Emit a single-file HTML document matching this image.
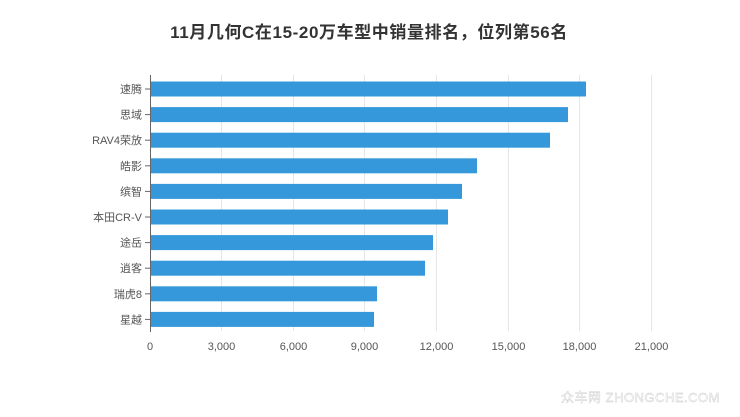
<!DOCTYPE html>
<html><head><meta charset="utf-8"><style>
html,body{margin:0;padding:0;background:#fff;}
svg{display:block;font-family:"Liberation Sans","Noto Sans CJK SC",sans-serif;}
</style></head><body>
<svg width="740" height="417" viewBox="0 0 740 417" xmlns="http://www.w3.org/2000/svg">
<text x="369" y="38" text-anchor="middle" font-size="17" font-weight="bold" fill="#333" letter-spacing="0.6">11月几何C在15-20万车型中销量排名，位列第56名</text>
<g stroke="#e6e6e6" stroke-width="1">
<line x1="221.5" y1="75" x2="221.5" y2="331"/>
<line x1="293.5" y1="75" x2="293.5" y2="331"/>
<line x1="364.5" y1="75" x2="364.5" y2="331"/>
<line x1="436.5" y1="75" x2="436.5" y2="331"/>
<line x1="508.5" y1="75" x2="508.5" y2="331"/>
<line x1="579.5" y1="75" x2="579.5" y2="331"/>
<line x1="651.5" y1="75" x2="651.5" y2="331"/>
</g>
<g fill="#3498db">
<rect x="150" y="81.5" width="436" height="15"/>
<rect x="150" y="107.1" width="418" height="15"/>
<rect x="150" y="132.7" width="400" height="15"/>
<rect x="150" y="158.3" width="327" height="15"/>
<rect x="150" y="183.9" width="312" height="15"/>
<rect x="150" y="209.5" width="298" height="15"/>
<rect x="150" y="235.1" width="283" height="15"/>
<rect x="150" y="260.7" width="275" height="15"/>
<rect x="150" y="286.3" width="227" height="15"/>
<rect x="150" y="311.9" width="224" height="15"/>
</g>
<g stroke="#666" stroke-width="1">
<line x1="150.5" y1="75" x2="150.5" y2="332"/>
<line x1="145" y1="89" x2="150" y2="89"/>
<line x1="145" y1="114.6" x2="150" y2="114.6"/>
<line x1="145" y1="140.2" x2="150" y2="140.2"/>
<line x1="145" y1="165.8" x2="150" y2="165.8"/>
<line x1="145" y1="191.4" x2="150" y2="191.4"/>
<line x1="145" y1="217" x2="150" y2="217"/>
<line x1="145" y1="242.6" x2="150" y2="242.6"/>
<line x1="145" y1="268.2" x2="150" y2="268.2"/>
<line x1="145" y1="293.8" x2="150" y2="293.8"/>
<line x1="145" y1="319.4" x2="150" y2="319.4"/>
</g>
<g font-size="11" fill="#555" text-anchor="end">
<text x="142" y="93">速腾</text>
<text x="142" y="118.6">思域</text>
<text x="142" y="144.2">RAV4荣放</text>
<text x="142" y="169.8">皓影</text>
<text x="142" y="195.4">缤智</text>
<text x="142" y="221">本田CR-V</text>
<text x="142" y="246.6">途岳</text>
<text x="142" y="272.2">逍客</text>
<text x="142" y="297.8">瑞虎8</text>
<text x="142" y="323.4">星越</text>
</g>
<g font-size="11" fill="#555" text-anchor="middle">
<text x="150" y="350">0</text>
<text x="221.5" y="350">3,000</text>
<text x="293.5" y="350">6,000</text>
<text x="364.5" y="350">9,000</text>
<text x="436.5" y="350">12,000</text>
<text x="508.5" y="350">15,000</text>
<text x="579.5" y="350">18,000</text>
<text x="651.5" y="350">21,000</text>
</g>
<text x="720" y="402" text-anchor="end" font-size="13" fill="#fff" stroke="#c8c8c8" stroke-width="0.4" letter-spacing="0.5">众车网 ZHONGCHE.COM</text>
</svg>
</body></html>
